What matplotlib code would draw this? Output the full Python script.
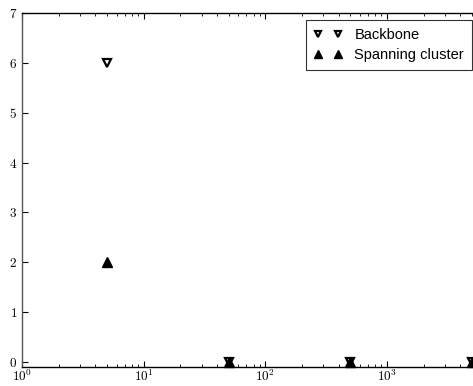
import math
import matplotlib
matplotlib.use("Agg")
import matplotlib.pyplot as plt
from matplotlib.ticker import FuncFormatter, FixedLocator

plt.rcParams['mathtext.fontset'] = 'cm'

x = [5, 50, 500, 5000]
backbone = [6, 0, 0, 0]
spanning = [2, 0, 0, 0]

fig = plt.figure(figsize=(4.73, 3.86), dpi=100)
ax = fig.add_axes([22/473, 1-367/386, 450/473, 354/386])
ax.plot(x, backbone, linestyle='none', marker='v', markerfacecolor='white',
        markeredgecolor='black', markeredgewidth=1.6, markersize=6, label='Backbone', clip_on=False)
ax.plot(x, spanning, linestyle='none', marker='^', color='black',
        markersize=6.5, label='Spanning cluster', clip_on=False)
ax.set_xscale('log')
ax.set_xlim(1, 5000)
ax.set_ylim(-0.1, 7)
ax.yaxis.set_major_locator(FixedLocator(range(0, 8)))
ax.xaxis.set_major_formatter(FuncFormatter(lambda v, p: r'$10^{%d}$' % round(math.log10(v))))
ax.yaxis.set_major_formatter(FuncFormatter(lambda v, p: r'$%d$' % v))
ax.tick_params(axis='both', which='both', direction='in', top=True, right=False, labelsize=9.5)
ax.tick_params(which='major', length=4)
ax.tick_params(which='minor', length=2)
ax.tick_params(axis='x', pad=1.5)
for s in ['left', 'bottom', 'top']:
    ax.spines[s].set_linewidth(1.0)
ax.spines['left'].set_color('#555555')
ax.spines['right'].set_visible(False)
leg = ax.legend(loc='upper right', bbox_to_anchor=(472/473, 1-20/386),
                bbox_transform=fig.transFigure, numpoints=2, frameon=True, fancybox=False,
                prop={'family': 'Liberation Sans', 'size': 10.5}, borderaxespad=0,
                handletextpad=0.8, borderpad=0.55, labelspacing=0.4, handlelength=2.0,
                markerscale=0.8)
leg.get_frame().set_edgecolor('black')
leg.get_frame().set_linewidth(0.8)
fig.savefig('out.png', dpi=100)
